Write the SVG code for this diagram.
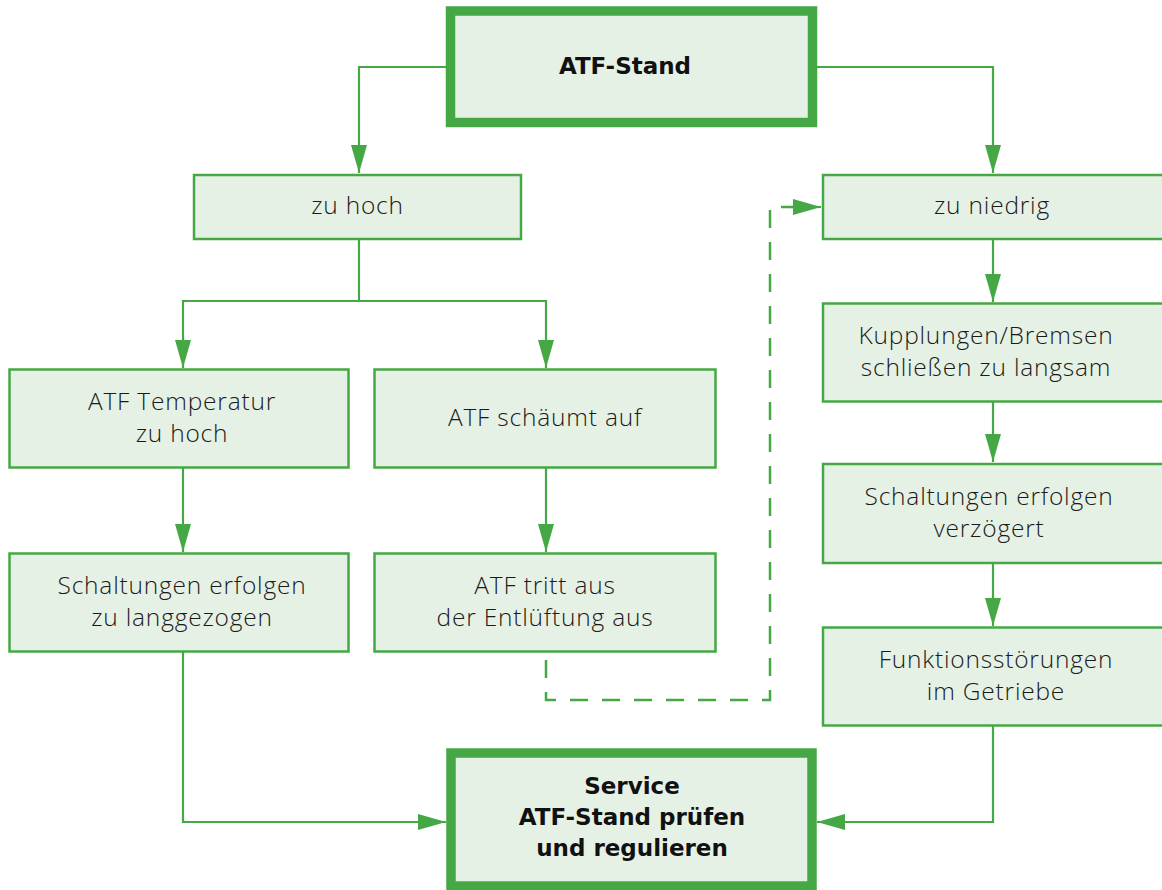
<svg xmlns="http://www.w3.org/2000/svg" width="1162" height="890" viewBox="0 0 1162 890">
<style>
.box{fill:#e6f1e5;stroke:#45a845;stroke-width:2.5}
.main{fill:#e6f1e5;stroke:#45a845;stroke-width:9.5}
.t{font-family:"Open Sans","DejaVu Sans",sans-serif;font-weight:300;font-size:24.5px;letter-spacing:0.8px;fill:#1a1a1a;text-anchor:middle}
.b{font-family:"DejaVu Sans","Liberation Sans",sans-serif;font-weight:bold;font-size:23px;fill:#111;text-anchor:middle}
.c{fill:none;stroke:#45a845;stroke-width:2.2}
.d{fill:none;stroke:#45a845;stroke-width:2.5;stroke-dasharray:18 14}
</style>
<defs>
<marker id="ah" markerUnits="userSpaceOnUse" markerWidth="28" markerHeight="16" refX="28" refY="8" orient="auto">
<path d="M0,0 L28,8 L0,16 z" fill="#45a845"/>
</marker>
</defs>
<rect width="1162" height="890" fill="#fff"/>
<g id="connectors">
<path class="c" d="M446,67 H359 V173" marker-end="url(#ah)"/>
<path class="c" d="M817,67 H993 V173" marker-end="url(#ah)"/>
<path class="c" d="M359,239 V301 H183 V368" marker-end="url(#ah)"/>
<path class="c" d="M359,301 H546 V368" marker-end="url(#ah)"/>
<path class="c" d="M183,468 V552" marker-end="url(#ah)"/>
<path class="c" d="M546,468 V552" marker-end="url(#ah)"/>
<path class="c" d="M993,239 V302" marker-end="url(#ah)"/>
<path class="c" d="M993,402 V462" marker-end="url(#ah)"/>
<path class="c" d="M993,563 V626" marker-end="url(#ah)"/>
<path class="c" d="M183,652 V822 H446" marker-end="url(#ah)"/>
<path class="c" d="M993,726 V822 H817" marker-end="url(#ah)"/>
<path class="d" d="M546,660 V700 H770 V207 H795"/>
<path class="c" d="M790,207 H821" marker-end="url(#ah)"/>
</g>
<g id="atf-stand">
<rect class="main" x="450.5" y="11" width="362" height="111.5"/>
<text class="b" x="625" y="74">ATF-Stand</text>
</g>
<g id="zu-hoch">
<rect class="box" x="194" y="175" width="327" height="64"/>
<text class="t" x="357.5" y="214">zu hoch</text>
</g>
<g id="zu-niedrig">
<rect class="box" x="823" y="175" width="345" height="64"/>
<text class="t" x="992" y="214">zu niedrig</text>
</g>
<g id="atf-temp">
<rect class="box" x="9.5" y="369.5" width="339" height="98"/>
<text class="t" x="182" y="410">ATF Temperatur</text>
<text class="t" x="182" y="442">zu hoch</text>
</g>
<g id="atf-schaeumt">
<rect class="box" x="374.5" y="369.5" width="341" height="98"/>
<text class="t" x="545" y="426">ATF schäumt auf</text>
</g>
<g id="schaltungen-lang">
<rect class="box" x="9.5" y="553.5" width="339" height="98"/>
<text class="t" x="182" y="594">Schaltungen erfolgen</text>
<text class="t" x="182" y="626">zu langgezogen</text>
</g>
<g id="atf-tritt">
<rect class="box" x="374.5" y="553.5" width="341" height="98"/>
<text class="t" x="545" y="594">ATF tritt aus</text>
<text class="t" x="545" y="626">der Entlüftung aus</text>
</g>
<g id="kupplungen">
<rect class="box" x="823" y="303.5" width="345" height="98"/>
<text class="t" x="986" y="344">Kupplungen/Bremsen</text>
<text class="t" x="986" y="376">schließen zu langsam</text>
</g>
<g id="schaltungen-verz">
<rect class="box" x="823" y="464" width="345" height="99"/>
<text class="t" x="989" y="505">Schaltungen erfolgen</text>
<text class="t" x="989" y="537">verzögert</text>
</g>
<g id="funktion">
<rect class="box" x="823" y="627.5" width="345" height="98"/>
<text class="t" x="996" y="668">Funktionsstörungen</text>
<text class="t" x="996" y="700">im Getriebe</text>
</g>
<g id="service">
<rect class="main" x="451" y="753" width="361" height="133"/>
<text class="b" x="632" y="794">Service</text>
<text class="b" x="632" y="825">ATF-Stand prüfen</text>
<text class="b" x="632" y="856">und regulieren</text>
</g>
</svg>
